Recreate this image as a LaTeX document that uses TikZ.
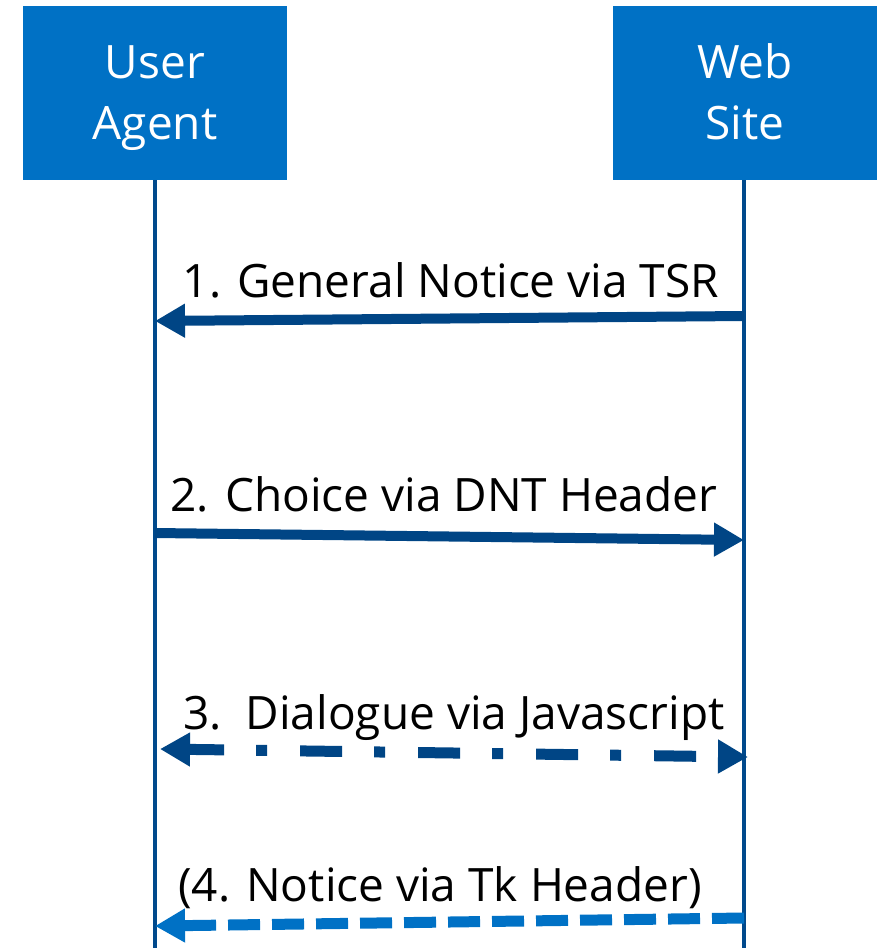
\documentclass[tikz,border=0pt]{standalone}
\usepackage{fontspec}
\setmainfont{Open Sans}
\usetikzlibrary{arrows.meta}
\definecolor{boxblue}{HTML}{0071C5}
\definecolor{darkblue}{HTML}{004585}
\definecolor{lineblue}{HTML}{00498C}
\begin{document}
\begin{tikzpicture}[x=1pt,y=-1pt,
  actor/.style={fill=boxblue,minimum width=264pt,minimum height=174pt,inner sep=0pt},
  actortext/.style={text=white,inner sep=0pt,anchor=base,font=\fontsize{46}{60}\selectfont},
  lifeline/.style={draw=lineblue,line width=3.5pt},
  msg/.style={draw=darkblue,line width=10pt,-{Triangle[length=30pt,width=32pt]}},
  lbl/.style={font=\fontsize{46}{52}\selectfont,text=black,inner sep=0pt,anchor=base}]
\useasboundingbox (0,0) rectangle (878,948);
\node[actor] (ua) at (155,93) {};
\node[actor] (ws) at (745,93) {};
\node[actortext] (ua1) at (155,78) {User};
\node[actortext] (ua2) at (155,139) {Agent};
\node[actortext] (ws1) at (745,78) {Web};
\node[actortext] (ws2) at (745,139) {Site};
\coordinate (uab) at (155,948);
\coordinate (wsb) at (744,948);
\draw[lifeline] (ua.south -| uab) -- (uab);
\draw[lifeline] (ws.south -| wsb) -- (wsb);
% message anchors
\coordinate (m1s) at (744,316);
\coordinate (m1e) at (155,321);
\coordinate (m2s) at (155,533);
\coordinate (m2e) at (744,540);
\coordinate (m3s) at (160,749);
\coordinate (m3e) at (748,757);
\coordinate (m4s) at (744,918);
\coordinate (m4e) at (155,926);
\draw[msg] (m1s) -- (m1e);
\draw[msg] (m2s) -- (m2e);
\draw[msg,line width=11pt,{Triangle[length=30pt,width=32pt]}-{Triangle[length=30pt,width=32pt]},dash pattern=on 42pt off 32pt on 11pt off 33pt,dash phase=6pt] (m3s) -- (m3e);
\draw[msg,draw=boxblue,line width=11pt,dash pattern=on 32pt off 12pt] (m4s) -- (m4e);
\node[lbl] (l1) at (451,297) {1. General Notice via TSR};
\node[lbl] (l2) at (444,511) {2. Choice via DNT Header};
\node[lbl] (l3) at (454,729) {3.\ \ Dialogue via Javascript};
\node[lbl] (l4) at (440,901) {(4. Notice via Tk Header)};
\end{tikzpicture}
\end{document}
